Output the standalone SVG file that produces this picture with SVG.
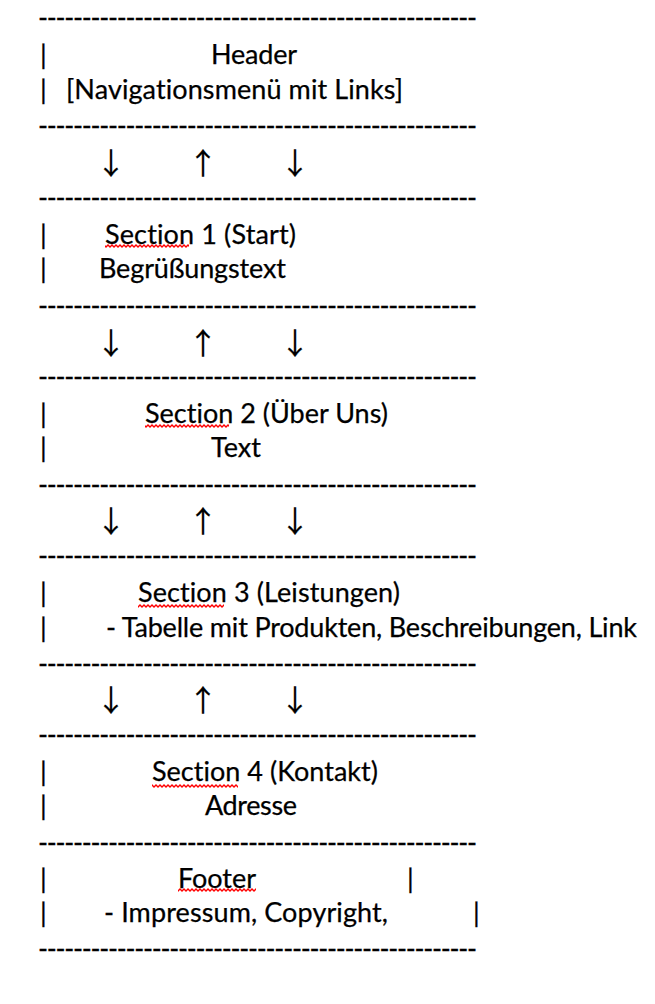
<svg xmlns="http://www.w3.org/2000/svg" width="655" height="1004" viewBox="0 0 655 1004">
<style>
text{font-family:Lato,"Liberation Sans",sans-serif;font-size:27px;fill:#000;font-variant-ligatures:none;stroke:#000;stroke-width:0.25px}
.d{font-size:27px}
.a{font-family:"Noto Sans CJK JP","DejaVu Sans",sans-serif;font-size:30px;stroke-width:0.2px}
</style>
<defs>
<pattern id="wave" width="4" height="4" patternUnits="userSpaceOnUse">
<path d="M-1,0 L0,1 L2,3 L4,1 L5,0" fill="none" stroke="#f00" stroke-width="1.4"/>
</pattern>
</defs>
<rect width="655" height="1004" fill="#fff"/>
<g id="sep">
<text class="d" x="38" y="27" textLength="439">--------------------------------------------------</text>
<text class="d" x="38" y="135" textLength="439">--------------------------------------------------</text>
<text class="d" x="38" y="207" textLength="439">--------------------------------------------------</text>
<text class="d" x="38" y="315" textLength="439">--------------------------------------------------</text>
<text class="d" x="38" y="386" textLength="439">--------------------------------------------------</text>
<text class="d" x="38" y="494" textLength="439">--------------------------------------------------</text>
<text class="d" x="38" y="565" textLength="439">--------------------------------------------------</text>
<text class="d" x="38" y="673" textLength="439">--------------------------------------------------</text>
<text class="d" x="38" y="744" textLength="439">--------------------------------------------------</text>
<text class="d" x="38" y="852" textLength="439">--------------------------------------------------</text>
<text class="d" x="38" y="958" textLength="439">--------------------------------------------------</text>
</g>
<g id="header">
<text x="40" y="64">|</text><text x="211" y="64" textLength="86">Header</text>
<text x="40" y="99">|</text><text x="66" y="99" textLength="337">[Navigationsmenü mit Links]</text>
</g>
<g id="section1">
<text x="40" y="244">|</text><text x="105" y="244" textLength="191">Section 1 (Start)</text>
<text x="40" y="278">|</text><text x="99" y="278" textLength="187">Begrüßungstext</text>
<rect x="105" y="244" width="84" height="4" fill="url(#wave)"/>
</g>
<g id="section2">
<text x="40" y="423">|</text><text x="145" y="423" textLength="243">Section 2 (Über Uns)</text>
<text x="40" y="457">|</text><text x="211" y="457" textLength="50">Text</text>
<rect x="145" y="424" width="84" height="4" fill="url(#wave)"/>
</g>
<g id="section3">
<text x="40" y="602">|</text><text x="138" y="602" textLength="262">Section 3 (Leistungen)</text>
<text x="40" y="637">|</text><text x="106" y="637" textLength="531">- Tabelle mit Produkten, Beschreibungen, Link</text>
<rect x="138" y="604" width="86" height="4" fill="url(#wave)"/>
</g>
<g id="section4">
<text x="40" y="781">|</text><text x="152" y="781" textLength="226">Section 4 (Kontakt)</text>
<text x="40" y="815">|</text><text x="205" y="815" textLength="92">Adresse</text>
<rect x="152" y="784" width="86" height="4" fill="url(#wave)"/>
</g>
<g id="footer">
<text x="40" y="888">|</text><text x="178" y="888" textLength="78">Footer</text><text x="407" y="888">|</text>
<text x="40" y="922">|</text><text x="104" y="922" textLength="284">- Impressum, Copyright,</text><text x="473" y="922">|</text>
<rect x="178" y="888" width="78" height="4" fill="url(#wave)"/>
</g>
<g id="connectors">
<g><text class="a" x="111" y="174" text-anchor="middle">↓</text><text class="a" x="203" y="174" text-anchor="middle">↑</text><text class="a" x="295" y="174" text-anchor="middle">↓</text></g>
<g><text class="a" x="111" y="354" text-anchor="middle">↓</text><text class="a" x="203" y="354" text-anchor="middle">↑</text><text class="a" x="295" y="354" text-anchor="middle">↓</text></g>
<g><text class="a" x="111" y="532" text-anchor="middle">↓</text><text class="a" x="203" y="532" text-anchor="middle">↑</text><text class="a" x="295" y="532" text-anchor="middle">↓</text></g>
<g><text class="a" x="111" y="711" text-anchor="middle">↓</text><text class="a" x="203" y="711" text-anchor="middle">↑</text><text class="a" x="295" y="711" text-anchor="middle">↓</text></g>
</g>
</svg>
